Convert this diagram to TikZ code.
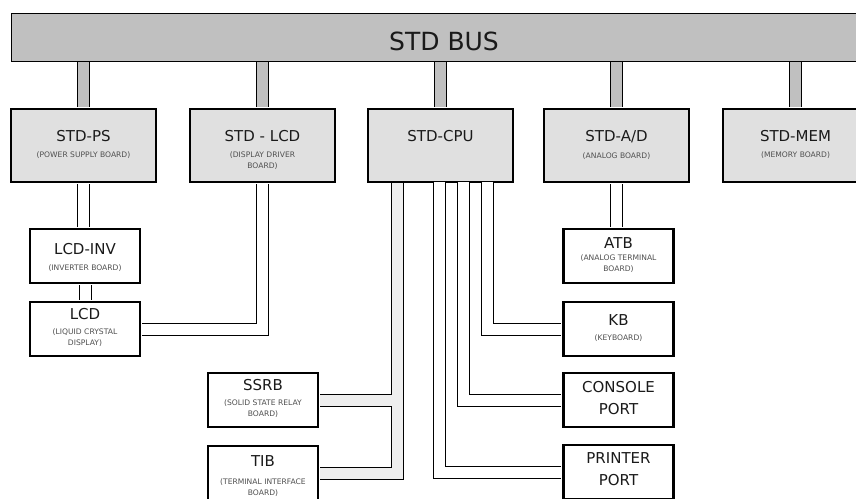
\documentclass[tikz,border=0pt]{standalone}
\usepackage{fontspec}
\setmainfont{DejaVu Sans}
\usetikzlibrary{positioning}

\definecolor{busgray}{HTML}{C0C0C0}
\definecolor{boardgray}{HTML}{E0E0E0}
\definecolor{barlight}{HTML}{EEEEEE}
\definecolor{notegray}{HTML}{505050}
\definecolor{textblack}{HTML}{1A1A1A}

\newcommand{\stack}[1]{\begin{tabular}[t]{@{}c@{}}#1\end{tabular}}
\newcommand{\boardnote}[1]{{\fontsize{7.6}{11}\selectfont\color{notegray}\stack{#1}}}
% title with a small note under it
\newcommand{\board}[3][-6pt]{\stack{#2\\[#1]\boardnote{#3}}}

\tikzset{
  bus/.style={draw, line width=1pt, fill=busgray, text=textblack,
    minimum width=866pt, inner sep=0pt,
    text height=37.3pt, text depth=10.7pt, font=\fontsize{25}{30}\selectfont},
  board/.style={draw, line width=2pt, fill=boardgray, text=textblack,
    minimum width=145pt, inner sep=0pt,
    text height=32.5pt, text depth=40.5pt, font=\fontsize{15}{22}\selectfont},
  unit/.style={draw, line width=2.2pt, fill=white, text=textblack,
    minimum width=110pt, inner sep=0pt,
    text height=#1pt, text depth=54pt-#1pt, font=\fontsize{15}{22}\selectfont},
  busstub/.style={line width=1pt, double=busgray, double distance=11pt,
    shorten <=0.5pt, shorten >=1pt},
  wire/.style={line width=1pt, double=white, double distance=11pt,
    shorten <=1pt, shorten >=1.1pt},
  cpuwire/.style={wire, shorten <=-1pt},
  cpubus/.style={cpuwire, double=barlight}
}

\begin{document}
\begin{tikzpicture}[x=1pt,y=-1pt]
  \useasboundingbox (0,0) rectangle (856,498);
  \clip (0,0) rectangle (856,498);

  % the bus
  \node[bus] (bus) at (444,37) {STD BUS};

  % boards on the bus
  \node[board] (ps) at (83.5,145.5) {\board{STD-PS}{(POWER SUPPLY BOARD)}};
  \node[board] (lcdb) at (262.5,145.5) {\board{STD - LCD}{(DISPLAY DRIVER\\BOARD)}};
  \node[board] (cpu) at (440.5,145.5) {STD-CPU};
  \node[board] (ad) at (616.5,145.5) {\board[-5pt]{STD-A/D}{(ANALOG BOARD)}};
  \node[board] (mem) at (795.5,145.5) {\board{STD-MEM}{(MEMORY BOARD)}};

  % units
  \node[unit=25.5] (inv) at (85,256) {\board{LCD-INV}{(INVERTER BOARD)}};
  \node[unit=17.5] (lcd) at (85,329) {\board[-7pt]{LCD}{(LIQUID CRYSTAL\\DISPLAY)}};
  \node[unit=19.5] (atb) at (618.5,256) {\board[-10pt]{ATB}{(ANALOG TERMINAL\\BOARD)}};
  \node[unit=23.5] (kb) at (618.5,329) {\board[-7pt]{KB}{(KEYBOARD)}};
  \node[unit=19.5] (con) at (618.5,400) {\stack{CONSOLE\\PORT}};
  \node[unit=18.5] (prn) at (618.5,472) {\stack{PRINTER\\PORT}};
  \node[unit=17.5] (ssrb) at (263,400) {\board[-7pt]{SSRB}{(SOLID STATE RELAY\\BOARD)}};
  \node[unit=20.5] (tib) at (263,473) {\board[-4pt]{TIB}{(TERMINAL INTERFACE\\BOARD)}};

  % bus stubs
  \foreach \b in {ps,lcdb,cpu,ad,mem}
    \draw[busstub] (\b.north |- bus.south) -- (\b.north);

  % cables
  \draw[wire] (ps.south) -- (ps.south |- inv.north);
  \draw[wire] (inv.south) -- (lcd.north);
  \draw[wire] (lcdb.south) |- (lcd.east);
  \draw[wire] (ad.south) -- (ad.south |- atb.north);

  % cables out of the cpu
  \draw[cpuwire] ([xshift=46.5pt]cpu.south) |- (kb.west);
  \draw[cpuwire] ([xshift=22.5pt]cpu.south) |- (con.west);
  \draw[cpuwire] ([xshift=-1.5pt]cpu.south) |- (prn.west);
  \coordinate (bar) at ([xshift=-43pt]cpu.south);
  \draw[cpubus] (bar) |- ([xshift=1pt]ssrb.east)
    (bar |- ssrb.east) |- (tib.east);
\end{tikzpicture}
\end{document}
